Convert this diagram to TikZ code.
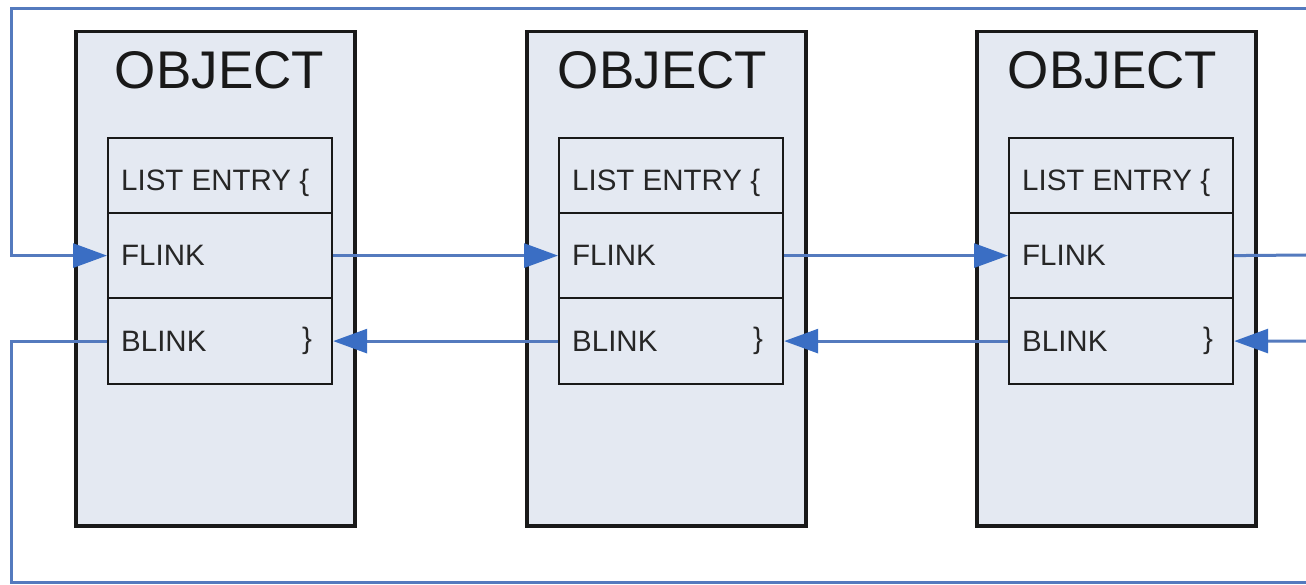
\documentclass[tikz,border=0pt]{standalone}
\usepackage{fontspec}
\setmainfont{Liberation Sans}
\usetikzlibrary{arrows.meta}
\definecolor{linkblue}{RGB}{84,122,190}
\definecolor{tipblue}{RGB}{58,110,196}
\definecolor{boxfill}{RGB}{228,233,242}
\tikzset{
  outerbox/.style={draw=black!90, line width=3.5pt, fill=boxfill, minimum width=279pt, minimum height=494pt, anchor=north west, inner sep=0pt},
  rowbox/.style={draw=black!90, line width=2.2pt, fill=boxfill, minimum width=224pt, anchor=north west, inner sep=0pt},
  title/.style={font=\fontsize{53}{56}\selectfont, inner sep=0pt, text=black!90},
  rowtext/.style={font=\fontsize{29.5}{32}\selectfont, text=black!85, anchor=west, inner sep=0pt},
  link/.style={draw=linkblue, line width=3pt},
  arrowlink/.style={link, -{Triangle[length=34pt,width=24pt,color=tipblue]}},
}
\begin{document}
\begin{tikzpicture}[x=1pt,y=-1pt]
\useasboundingbox[fill=white] (0,0) rectangle (1306,585);
\foreach \i/\x/\dx in {1/74/6,2/525/-2,3/975/-2}{
  \node[outerbox] (o\i) at (\x,30) {};
  \node[title] (t\i) at (\x+139.5+\dx,70) {OBJECT};
  \node[rowbox, minimum height=75pt] (e\i) at (\x+33,137) {};
  \node[rowbox, minimum height=85pt] (f\i) at (\x+33,212) {};
  \node[rowbox, minimum height=86pt] (b\i) at (\x+33,297) {};
  \node[rowtext] (et\i) at (\x+47,183) {LIST ENTRY \{};
  \node[rowtext] (ft\i) at (\x+47,255) {FLINK};
  \node[rowtext] (bt\i) at (\x+47,341) {BLINK};
  \node[rowtext] (br\i) at (\x+228,341) {\}};
}
\coordinate (topR) at (1306,9);
\coordinate (topL) at (11,9);
\coordinate (botL) at (11,582);
\coordinate (botR) at (1306,582);
\coordinate (fR) at (1306,255);
\coordinate (bR) at (1306,341);
% forward links
\draw[arrowlink] (f1.east) -- (f2.west);
\draw[arrowlink] (f2.east) -- (f3.west);
\draw[link] (f3.east) -- (fR);
\draw[arrowlink] (topR) -- (topL) |- (f1.west);
% backward links
\draw[arrowlink] (b2.west) -- (b1.east);
\draw[arrowlink] (b3.west) -- (b2.east);
\draw[arrowlink] (bR) -- (b3.east);
\draw[link] (b1.west) -| (botL) -- (botR);
\end{tikzpicture}
\end{document}
